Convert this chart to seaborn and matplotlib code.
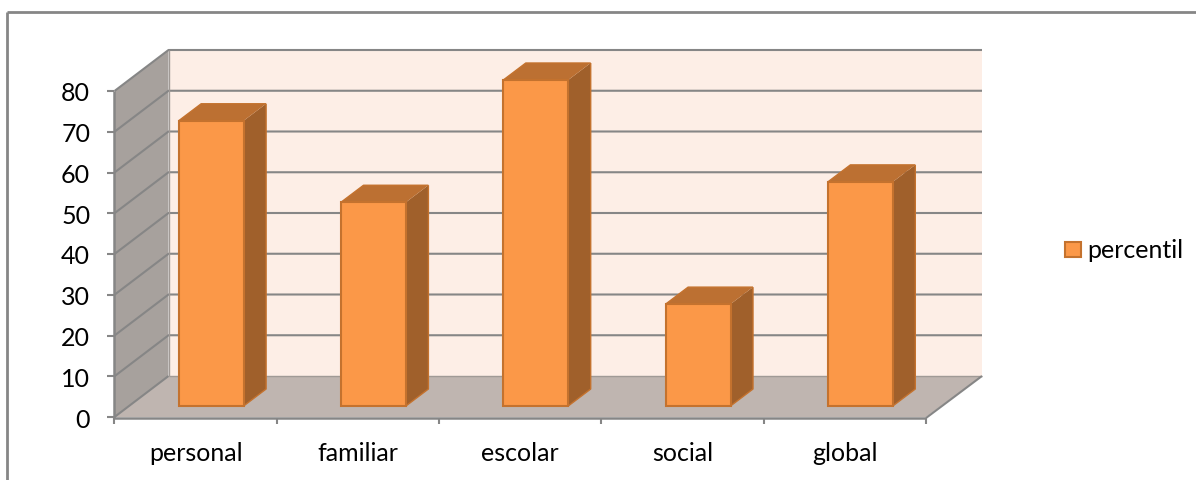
import matplotlib
matplotlib.use("Agg")
import matplotlib.pyplot as plt
import pandas as pd
import seaborn as sns
from matplotlib.patches import Polygon, Rectangle
from matplotlib.transforms import Affine2D, IdentityTransform

# datos
categorias = ["personal", "familiar", "escolar", "social", "global"]
percentil = [70, 50, 80, 25, 55]
serie = "percentil"
ticks_y = [0, 10, 20, 30, 40, 50, 60, 70, 80]

W, H = 1196, 481

# profundidad del "3D" falso, en pixeles
PROF_X, PROF_XD, PROF_Y = 54, 56, 41
BAR_X, BAR_Y = 15.5, 11
CARA_X, CARA_Y = 22.5, 17

NARANJA = "#FB9848"
BORDE = "#C4722E"
LATERAL = "#A0602B"
TAPA = "#BC7032"
GRIS = "#868686"
FUENTE = 18

sns.set_theme(style="white")
plt.rcParams["font.family"] = ["Lato", "DejaVu Sans"]

fig = plt.figure(figsize=(W / 100, H / 100), dpi=100)
ax = fig.add_axes([114.5 / W, 1 - 418 / H, 811.5 / W, 326 / H])

df = pd.DataFrame({"categoria": categorias, serie: percentil})
sns.barplot(data=df, x="categoria", y=serie, color=NARANJA, width=0.4, saturation=1,
            edgecolor=BORDE, linewidth=1.5, ax=ax, zorder=5)
ax.set_xlim(-0.5, len(categorias) - 0.5)
ax.set_ylim(0, 80)
ax.set_xlabel("")
ax.set_ylabel("")
ax.patch.set_visible(False)
for s in ax.spines.values():
    s.set_visible(False)

ax.set_yticks(ticks_y)
ax.set_yticklabels([str(t) for t in ticks_y], fontsize=FUENTE, color="black")
ax.tick_params(axis="y", left=False, pad=11.5)
ax.tick_params(axis="x", bottom=False, labelsize=FUENTE, labelcolor="black", pad=11.5)

ident = IdentityTransform()
fig.canvas.draw()


def px(x, y):
    return ax.transData.transform((x, y))


def poly(puntos, color, z, **kw):
    fig.add_artist(Polygon(puntos, closed=True, facecolor=color, edgecolor="none",
                           transform=ident, zorder=z, **kw))


x0, y0 = px(-0.5, 0)
x1, _ = px(len(categorias) - 0.5, 0)
_, ytop = px(-0.5, 80)

# paredes y piso
poly([(x0 + PROF_X, y0 + PROF_Y), (x1 + PROF_XD, y0 + PROF_Y),
      (x1 + PROF_XD, ytop + PROF_Y), (x0 + PROF_X, ytop + PROF_Y)], "#FDEEE6", 0.5)
poly([(x0, y0), (x0 + PROF_X, y0 + PROF_Y), (x0 + PROF_X, ytop + PROF_Y), (x0, ytop)], "#A7A19D", 0.6)
poly([(x0, y0), (x1, y0), (x1 + PROF_XD, y0 + PROF_Y), (x0 + PROF_X, y0 + PROF_Y)], "#BFB5B0", 0.6)


def linea(xs, ys, lw=1.6, color=GRIS, z=1):
    fig.add_artist(plt.Line2D(xs, ys, color=color, lw=lw, transform=ident, zorder=z,
                              solid_capstyle="butt"))


# grilla: diagonal en la pared y horizontal al fondo
for t in ticks_y:
    _, yt = px(-0.5, t)
    if t > 0:
        linea([x0, x0 + PROF_X, x1 + PROF_XD], [yt, yt + PROF_Y, yt + PROF_Y], lw=1.5)
    else:
        linea([x0, x0 + PROF_X], [yt, yt + PROF_Y], lw=1.5)
        linea([x0 + PROF_X, x1 + PROF_XD], [yt + PROF_Y, yt + PROF_Y], lw=1, color="#A09A96")
    linea([x0 - 7, x0], [yt, yt], lw=1.5)
linea([x0 + PROF_X, x0 + PROF_X], [y0 + PROF_Y, ytop + PROF_Y], lw=1, color="#A09A96")

# ejes frontales
linea([x0, x0], [y0 - 1, ytop], lw=1.8)
linea([x0, x1], [y0 - 1, y0 - 1], lw=1.8, z=1.2)
linea([x1, x1 + PROF_XD], [y0 - 1, y0 + PROF_Y], lw=1.5)
for i in range(len(categorias) + 1):
    xt, _ = px(i - 0.5, 0)
    linea([xt, xt], [y0 - 1, y0 - 7], lw=1.5)

# barras: se corren hacia el fondo y se les agrega lateral y tapa
mover = Affine2D().translate(BAR_X, BAR_Y)
for b in ax.patches:
    b.set_transform(ax.transData + mover)
    b.set_clip_on(False)
    xa, ya = mover.transform(px(b.get_x(), 0))
    xb, yb = mover.transform(px(b.get_x() + b.get_width(), b.get_height()))
    poly([(xb, ya), (xb + CARA_X, ya + CARA_Y), (xb + CARA_X, yb + CARA_Y), (xb, yb)], LATERAL, 3)
    poly([(xa, yb), (xb, yb), (xb + CARA_X, yb + CARA_Y), (xa + CARA_X, yb + CARA_Y)], TAPA, 3)
    linea([xb, xb + CARA_X, xb + CARA_X], [ya, ya + CARA_Y, yb + CARA_Y], lw=1, color=BORDE, z=3.1)
    linea([xa, xa + CARA_X, xb + CARA_X], [yb, yb + CARA_Y, yb + CARA_Y], lw=1, color=BORDE, z=3.1)
ax.set_zorder(4)

# leyenda
fig.add_artist(Rectangle((1064.5 / W, 1 - 258 / H), 16 / W, 15.5 / H, transform=fig.transFigure,
                         facecolor=NARANJA, edgecolor=BORDE, lw=1.5))
fig.text(1087 / W, 1 - 250 / H, serie, fontsize=FUENTE, color="black", va="center", ha="left")

# marco
linea([6.5, 6.5], [0, H - 13], lw=2)
linea([6.5, W], [H - 13, H - 13], lw=2)

fig.savefig("out.png", dpi=100)
